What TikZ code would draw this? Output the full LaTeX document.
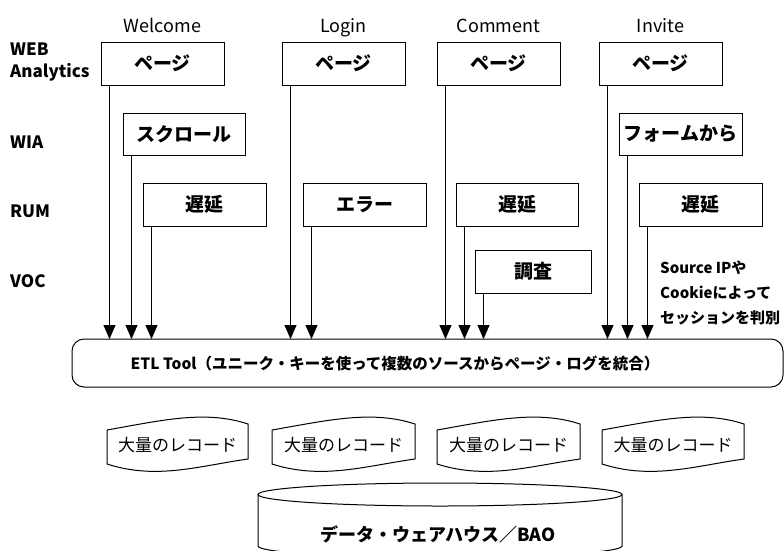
\documentclass[tikz,border=0pt]{standalone}
\usepackage{fontspec}
\setmainfont{Noto Sans CJK JP}
\usetikzlibrary{arrows.meta}
\begin{document}
\begin{tikzpicture}[x=1pt,y=-1pt,
  box/.style={draw, line width=1pt, minimum width=123pt, minimum height=43pt,
    inner sep=0pt, outer sep=0pt, font=\fontsize{19}{21}\selectfont\bfseries},
  lab/.style={font=\fontsize{18}{20}\selectfont, inner sep=0pt, anchor=base},
  side/.style={font=\fontsize{17}{22}\selectfont\bfseries, anchor=west,
    inner sep=0pt, align=left},
  feed/.style={line width=1pt, -{Triangle[length=14pt,width=12pt]}},
  shape line/.style={draw, line width=1pt},
  rec/.style={font=\fontsize{17}{19}\selectfont, inner sep=0pt}]
\useasboundingbox (0,0) rectangle (784,550);
\clip (0,0) rectangle (784,550);

% column titles
\node[lab] (t1) at (162.5,32) {Welcome};
\node[lab] (t2) at (343.5,32) {Login};
\node[lab] (t3) at (498.5,32) {Comment};
\node[lab] (t4) at (660.5,32) {Invite};

% row titles
\node[side] (r1) at (10,62) {WEB\\Analytics};
\node[side] (r2) at (10,142) {WIA};
\node[side] (r3) at (10,211) {RUM};
\node[side] (r4) at (10,281) {VOC};

% boxes
\node[box] (pg1) at (162.5,63.5) {ページ};
\node[box] (pg2) at (343.5,63.5) {ページ};
\node[box] (pg3) at (498.5,63.5) {ページ};
\node[box] (pg4) at (660.5,63.5) {ページ};
\node[box, minimum width=122pt, minimum height=42pt] (wia1) at (184,134) {スクロール};
\node[box, minimum height=42pt] (wia2) at (680.5,134) {フォームから};
\node[box] (rum1) at (204.5,204.5) {遅延};
\node[box] (rum2) at (364.5,204.5) {エラー};
\node[box, minimum width=122pt] (rum3) at (517,204.5) {遅延};
\node[box] (rum4) at (700.5,204.5) {遅延};
\node[box, minimum width=116pt] (voc) at (533,271.5) {調査};

% note
\node[font=\fontsize{15}{25}\selectfont\bfseries, anchor=west, align=left, inner sep=0pt]
  (note) at (660,293) {Source IPや\\Cookieによって\\セッションを判別};

% ETL
\node[shape line, rounded corners=12pt, minimum width=711pt, minimum height=48pt,
  inner sep=0pt, outer sep=0pt] (etl) at (427.5,363) {};
\node[font=\fontsize{15.5}{18}\selectfont\bfseries, inner sep=0pt] (etltext) at (395,363)
  {ETL Tool（ユニーク・キーを使って複数のソースからページ・ログを統合）};

% feeds
\foreach \n in {pg1,wia1,rum1,pg2,rum2,pg3,rum3,voc,pg4,wia2,rum4}
  \draw[feed] ([xshift=8.5pt]\n.south west) -- ([xshift=8.5pt]\n.south west |- etl.north);

% record documents
\foreach \a/\b/\c/\i in {107/248/177.5/1,272/415/343.5/2,437/580/508.5/3,602/744/673/4}{
  \pgfmathsetmacro\w{\b-\a}
  \draw[line width=1pt] (\a,430) .. controls ({\a+0.4*\w},420) and ({\a+0.7*\w},410) .. (\b,424)
    -- (\b,459) .. controls ({\a+0.65*\w},466) and ({\a+0.35*\w},480) .. (\a,464) -- cycle;
  \node[rec] (doc\i) at (\c,445) {大量のレコード};
}

% warehouse cylinder
\draw[line width=1pt] (440,494.5) ellipse [x radius=182, y radius=11.5];
\draw[line width=1pt] (258,494.5) -- (258,546) arc[start angle=180, end angle=0, x radius=182, y radius=11.5] -- (622,494.5);
\node[font=\fontsize{18}{20}\selectfont\bfseries, inner sep=0pt] (dw) at (438,534) {データ・ウェアハウス／BAO};
\end{tikzpicture}
\end{document}
